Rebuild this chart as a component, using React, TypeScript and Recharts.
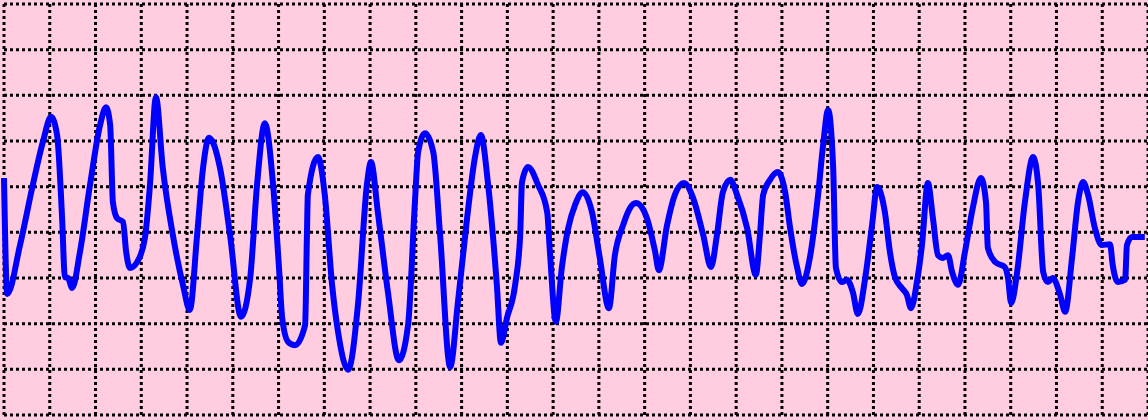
import { LineChart, Line, XAxis, YAxis, CartesianGrid } from "recharts";

// time in big grid squares, amplitude in big grid squares above the bottom line
const time = [
  0, 0.07, 0.35, 0.63, 0.85, 1.03, 1.16, 1.27, 1.33, 1.4, 1.49, 1.66, 1.88, 2.1, 2.23, 2.32, 2.38, 2.47, 2.6, 2.67,
  2.75, 2.91, 3.08, 3.19, 3.32, 3.47, 3.69, 3.91, 4.06, 4.22, 4.35, 4.48, 4.72, 4.94, 5.18, 5.38, 5.53, 5.7, 5.88, 6.01,
  6.08, 6.21, 6.36, 6.58, 6.62, 6.64, 6.86, 7.01, 7.17, 7.3, 7.52, 7.74, 7.93, 8.02, 8.17, 8.39, 8.63, 8.83, 8.98, 9.05,
  9.2, 9.38, 9.53, 9.75, 9.92, 10.12, 10.29, 10.42, 10.58, 10.77, 10.86, 10.99, 11.17, 11.28, 11.32, 11.45, 11.67, 11.87, 11.93, 12.06,
  12.19, 12.33, 12.48, 12.65, 12.85, 13.02, 13.22, 13.35, 13.53, 13.68, 13.81, 14.05, 14.23, 14.31, 14.49, 14.66, 14.86, 15.06, 15.28, 15.45,
  15.58, 15.71, 15.87, 16.02, 16.24, 16.43, 16.52, 16.59, 16.74, 16.91, 17.07, 17.18, 17.33, 17.44, 17.61, 17.79, 17.9, 18.01, 18.12, 18.18,
  18.31, 18.42, 18.55, 18.66, 18.82, 18.97, 19.08, 19.25, 19.36, 19.47, 19.62, 19.73, 19.82, 19.95, 20.06, 20.19, 20.3, 20.41, 20.52, 20.63,
  20.72, 20.85, 21.0, 21.17, 21.35, 21.46, 21.5, 21.66, 21.87, 21.94, 22.01, 22.14, 22.31, 22.49, 22.6, 22.71, 22.81, 22.92, 23.08, 23.19,
  23.34, 23.47, 23.58, 23.69, 23.84, 23.99, 24.17, 24.23, 24.34, 24.5, 24.54, 24.65, 24.93,
];

const signal = [
  5.19, 2.65, 3.72, 5.04, 5.98, 6.53, 6.13, 4.31, 3.02, 3.0, 2.78, 3.57, 5.04, 6.35, 6.74, 6.35, 4.66, 4.31, 4.23, 3.57,
  3.22, 3.35, 3.88, 5.04, 6.96, 5.41, 3.94, 2.85, 2.3, 3.94, 5.41, 6.07, 5.41, 3.94, 2.15, 3.0, 5.04, 6.39, 5.04, 3.22,
  2.12, 1.6, 1.53, 1.97, 3.94, 4.82, 5.65, 4.82, 2.85, 1.82, 0.99, 2.47, 5.04, 5.54, 4.44, 2.69, 1.2, 1.97, 4.66, 5.76,
  6.17, 5.76, 3.94, 1.05, 2.47, 4.31, 5.63, 6.13, 5.04, 2.85, 1.58, 2.12, 2.85, 3.94, 5.1, 5.43, 5.04, 4.44, 3.57, 2.04,
  3.22, 4.09, 4.6, 4.88, 4.44, 3.44, 2.34, 3.5, 4.16, 4.53, 4.64, 4.31, 3.57, 3.17, 4.16, 4.82, 5.08, 4.75, 3.94, 3.24,
  3.94, 4.88, 5.15, 4.82, 4.09, 3.07, 3.94, 4.82, 5.15, 5.32, 4.88, 4.09, 3.24, 2.87, 3.44, 4.82, 5.91, 6.68, 5.41, 3.22,
  2.91, 2.96, 2.69, 2.21, 3.0, 4.16, 4.99, 4.44, 3.57, 3.02, 2.78, 2.63, 2.34, 2.91, 3.72, 5.08, 4.31, 3.5, 3.44, 3.5,
  3.13, 2.85, 3.57, 4.53, 5.19, 4.66, 3.66, 3.35, 3.24, 3.0, 2.45, 3.13, 4.66, 5.65, 5.04, 3.13, 2.91, 3.0, 2.63, 2.26,
  3.44, 4.66, 5.1, 4.82, 4.09, 3.72, 3.74, 3.28, 2.91, 2.96, 3.72, 3.9, 3.9,
];

const xTicks = [0, 1, 2, 3, 4, 5, 6, 7, 8, 9, 10, 11, 12, 13, 14, 15, 16, 17, 18, 19, 20, 21, 22, 23, 24, 25];
const yTicks = [0, 1, 2, 3, 4, 5, 6, 7, 8, 9];

const data = time.map((t, i) => ({ t, v: signal[i] }));

export default function App() {
  return (
    <div style={{ position: "absolute", left: 0, top: 0, width: 1148, height: 420, background: "#ffcce0" }}>
      <LineChart width={1148} height={420} data={data} margin={{ top: 4, right: 0, bottom: 5, left: 4 }}>
        <CartesianGrid stroke="#000" strokeWidth={3} strokeDasharray="3 3" />
        <XAxis dataKey="t" type="number" domain={[0, 25]} ticks={xTicks} hide />
        <YAxis type="number" domain={[0, 9]} ticks={yTicks} hide />
        <Line
          type="monotone"
          dataKey="v"
          stroke="#0000ff"
          strokeWidth={6}
          dot={false}
          isAnimationActive={false}
        />
      </LineChart>
    </div>
  );
}
